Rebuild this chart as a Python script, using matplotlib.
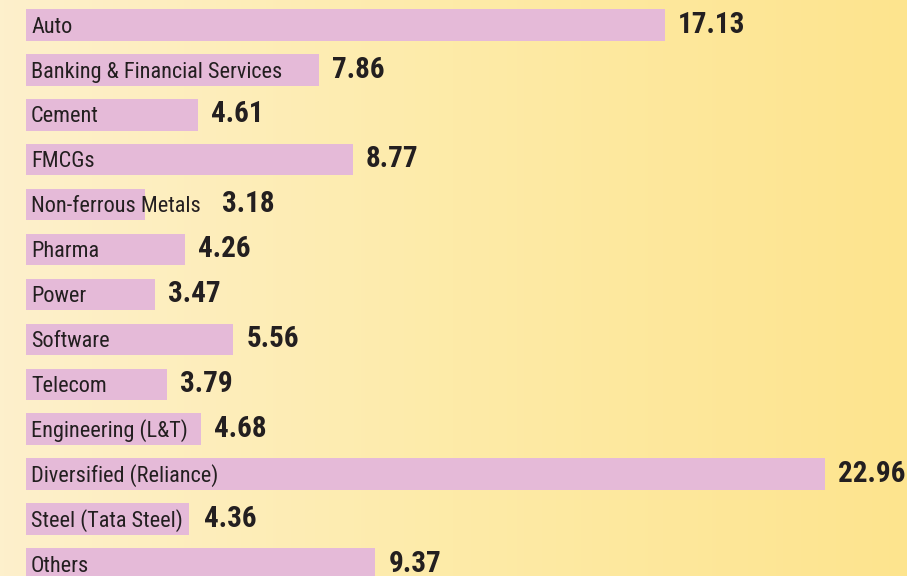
import numpy as np
import matplotlib.pyplot as plt
from matplotlib.colors import LinearSegmentedColormap

sectors = ['Auto', 'Banking & Financial Services', 'Cement', 'FMCGs',
           'Non-ferrous Metals', 'Pharma', 'Power', 'Software', 'Telecom',
           'Engineering (L&T)', 'Diversified (Reliance)', 'Steel (Tata Steel)',
           'Others']
values = [17.13, 7.86, 4.61, 8.77, 3.18, 4.26, 3.47, 5.56, 3.79, 4.68,
          22.96, 4.36, 9.37]
bar_cap = 21.42  # longest bar is cut short in the original artwork

bar_color = '#e5bad8'
text_color = '#231f20'

fig = plt.figure(figsize=(9.07, 5.76), dpi=100)
ax = fig.add_axes([0, 0, 1, 1])

# background gradient, light cream on the left to warm yellow on the right
bg = LinearSegmentedColormap.from_list('bg', ['#fdf0cc', '#feeba8', '#fde48e'])
ax.imshow(np.linspace(0, 1, 256).reshape(1, -1), cmap=bg, aspect='auto',
          extent=[0, 1, 0, 1], transform=ax.transAxes, zorder=0)

y = np.arange(len(sectors))
ax.barh(y, np.minimum(values, bar_cap), height=0.7, left=0,
        color=bar_color, zorder=2)

ax.set_xlim(-0.697, 23.62)
ax.set_ylim(12.27, -0.557)
ax.axis('off')

fam = ['Roboto Condensed', 'PT Sans Narrow', 'DejaVu Sans']
labels = []
for i, name in enumerate(sectors):
    t = ax.annotate(name, (0, i + 0.17), xytext=(3.6, 0),
                    textcoords='offset points', va='baseline', ha='left',
                    fontsize=16, color=text_color, zorder=3, family=fam)
    labels.append(t)

fig.canvas.draw()
r = fig.canvas.get_renderer()
inv = ax.transData.inverted()
for i, v in enumerate(values):
    bar_end = ax.transData.transform((min(v, bar_cap), 0))[0] + 13
    lab_end = labels[i].get_window_extent(r).x1 + 21
    xpix = max(bar_end, lab_end)
    xd = inv.transform((xpix, 0))[0]
    ax.text(xd, i + 0.17, f'{v:.2f}', va='baseline', ha='left',
            fontsize=21, fontweight='bold', color=text_color, zorder=3,
            family=fam)

fig.savefig('out.png', dpi=100)
